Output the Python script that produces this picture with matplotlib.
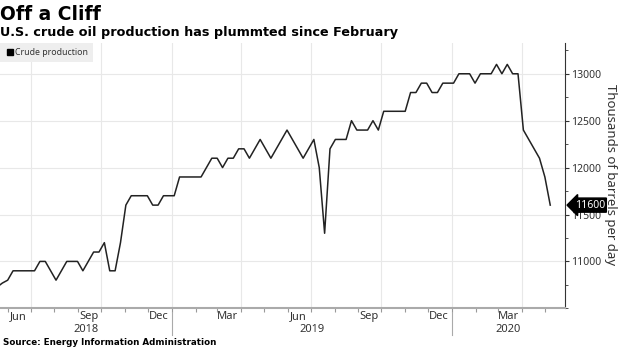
import matplotlib as mpl
mpl.use("Agg")
import matplotlib.pyplot as plt
import matplotlib.dates as mdates
import matplotlib.ticker as mticker
from matplotlib.lines import Line2D
import pandas as pd

plt.rcParams["font.family"] = ["Noto Sans", "DejaVu Sans"]

# weekly U.S. crude oil production, thousand barrels per day (weeks ending Friday)
prod_2018 = [10725, 10769, 10800, 10900, 10900, 10900, 10900, 10900, 11000, 11000,
             10900, 10800, 10900, 11000, 11000, 11000, 10900, 11000, 11100, 11100,
             11200, 10900, 10900, 11200, 11600, 11700, 11700, 11700, 11700, 11600,
             11600, 11700, 11700]
prod_2019 = [11700, 11900, 11900, 11900, 11900, 11900, 12000, 12100, 12100, 12000,
             12100, 12100, 12200, 12200, 12100, 12200, 12300, 12200, 12100, 12200,
             12300, 12400, 12300, 12200, 12100, 12200, 12300, 12000, 11300, 12200,
             12300, 12300, 12300, 12500, 12400, 12400, 12400, 12500, 12400, 12600,
             12600, 12600, 12600, 12600, 12800, 12800, 12900, 12900, 12800, 12800,
             12900, 12900]
prod_2020 = [12900, 13000, 13000, 13000, 12900, 13000, 13000, 13000, 13100, 13000,
             13100, 13000, 13000, 12400, 12300, 12200, 12100, 11900, 11600]
first_week = "2018-05-18"

series_name = "Crude production"
title = "Off a Cliff"
subtitle = "U.S. crude oil production has plummted since February"
source = "Source: Energy Information Administration"
y_label = "Thousands of barrels per day"
y_ticks = [11000, 11500, 12000, 12500, 13000]
x_start, x_end = pd.Timestamp("2018-05-22"), pd.Timestamp("2020-05-27")

values = prod_2018 + prod_2019 + prod_2020
weeks = pd.date_range(first_week, periods=len(values), freq="7D")

fig = plt.figure(figsize=(6.2, 3.48), dpi=100)
ax = fig.add_axes([0, 0.114, 0.911, 0.763])

ax.plot(weeks, values, color="#222222", lw=1.1, zorder=3)
ax.set_xlim(x_start, x_end)
ax.set_ylim(10500, 13330)

# grid: horizontal at labelled values, vertical at quarter starts
ax.set_yticks(y_ticks)
ax.yaxis.set_minor_locator(mticker.MultipleLocator(250))
ax.grid(axis="y", color="#e8e8e8", lw=0.8)
for q in pd.date_range("2018-07-01", x_end, freq="QS"):
    ax.axvline(q, color="#e8e8e8", lw=0.8, zorder=0)

ax.yaxis.tick_right()
ax.tick_params(axis="y", which="major", length=3, pad=1.5, labelsize=7.5,
               labelcolor="#333333", color="#333333")
ax.tick_params(axis="y", which="minor", length=2, color="#333333")

# x axis: month ticks, labels mid-month every quarter
ax.xaxis.set_major_locator(mdates.MonthLocator())
ax.xaxis.set_major_formatter(mticker.NullFormatter())
ax.xaxis.set_minor_locator(mdates.MonthLocator(bymonth=[3, 6, 9, 12], bymonthday=15))
ax.xaxis.set_minor_formatter(mdates.DateFormatter("%b"))
ax.tick_params(axis="x", which="major", length=3, color="#999999")
ax.tick_params(axis="x", which="minor", length=0, pad=2, labelsize=8, labelcolor="#333333")

# year labels and separators
for year in [2018, 2019, 2020]:
    lo = max(x_start, pd.Timestamp(f"{year}-01-01"))
    hi = min(x_end, pd.Timestamp(f"{year + 1}-01-01"))
    ax.text(lo + (hi - lo) / 2, -0.08, str(year), transform=ax.get_xaxis_transform(),
            ha="center", va="center", fontsize=8, color="#333333")
for year in [2019, 2020]:
    ax.axvline(pd.Timestamp(f"{year}-01-01"), ymin=-0.1, ymax=-0.014, clip_on=False,
               color="#aaaaaa", lw=0.8)

for side in ["top", "left"]:
    ax.spines[side].set_visible(False)
ax.spines["bottom"].set_color("#aaaaaa")
ax.spines["bottom"].set_linewidth(1.5)
ax.spines["right"].set_color("#333333")
ax.spines["right"].set_linewidth(0.8)

# last value tag
ax.annotate(f"{values[-1]}", xy=(1, values[-1]), xycoords=ax.get_yaxis_transform(),
            xytext=(7, 0), textcoords="offset points", ha="left", va="center",
            color="white", fontsize=7.5, zorder=5,
            bbox=dict(boxstyle="larrow,pad=0.15", fc="black", ec="black"))

leg = ax.legend(handles=[Line2D([], [], marker="s", ls="", color="black", markersize=4.5)],
                labels=[series_name], loc="upper left", bbox_to_anchor=(0, 1),
                borderaxespad=0, fancybox=False, facecolor="#eeeeee", edgecolor="none",
                framealpha=1, fontsize=6.3, handletextpad=0.1, handlelength=1.0,
                borderpad=0.6)
leg.get_texts()[0].set_color("#333333")

fig.text(610 / 620, 1 - 175 / 348, y_label, rotation=270, ha="center", va="center",
         fontsize=9.5, color="#333333")

fig.text(0.0, 1 - 20 / 348, title, family="DejaVu Sans", weight="bold", fontsize=13.5,
         va="baseline")
fig.text(0.0, 1 - 36 / 348, subtitle, family="DejaVu Sans", weight="bold", fontsize=9.15,
         va="baseline")
fig.text(0.005, 1 - 345 / 348, source, family="DejaVu Sans", weight="bold", fontsize=6.3,
         va="baseline")

fig.savefig("out.png", dpi=100)
